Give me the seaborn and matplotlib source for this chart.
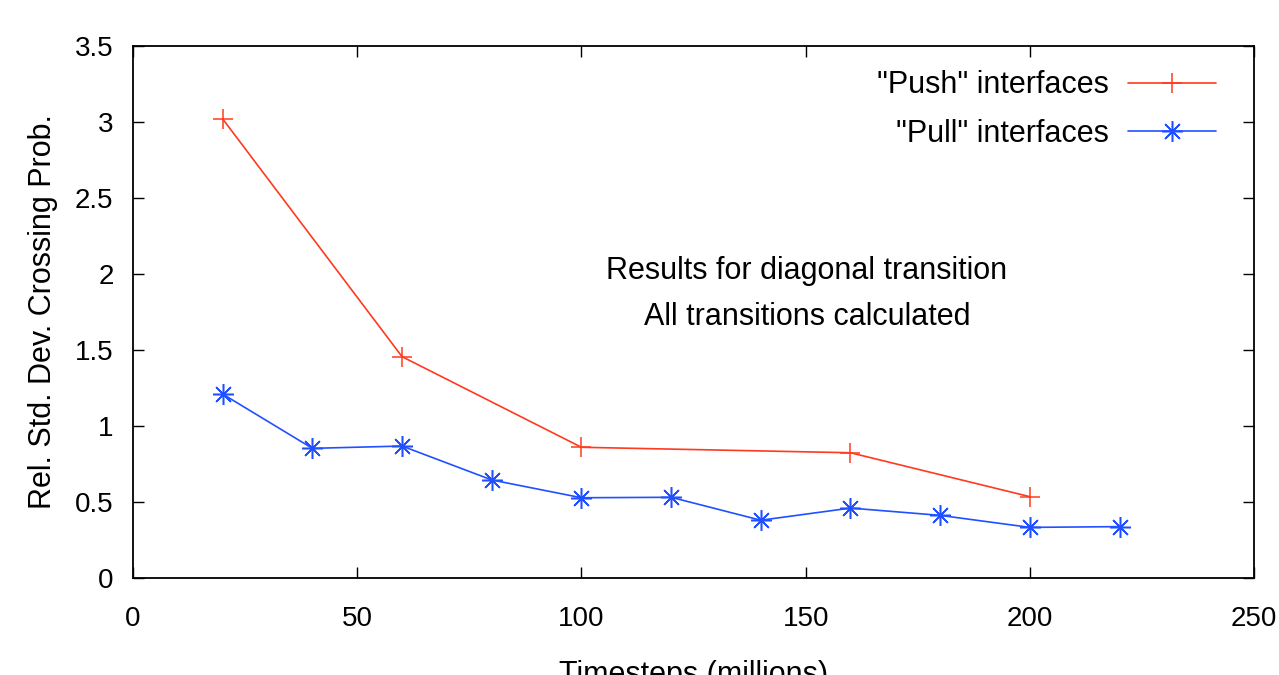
import matplotlib
matplotlib.use("Agg")
import matplotlib.pyplot as plt
import seaborn as sns
import pandas as pd

push_x = [20, 60, 100, 160, 200]
push_y = [3.02, 1.456, 0.86, 0.824, 0.535]
pull_x = [20, 40, 60, 80, 100, 120, 140, 160, 180, 200, 220]
pull_y = [1.21, 0.853, 0.868, 0.645, 0.528, 0.531, 0.38, 0.46, 0.412, 0.333, 0.338]
push_label = '"Push" interfaces'
pull_label = '"Pull" interfaces'
x_ticks = [0, 50, 100, 150, 200, 250]
y_ticks = [0, 0.5, 1, 1.5, 2, 2.5, 3, 3.5]
y_tick_labels = ["0", "0.5", "1", "1.5", "2", "2.5", "3", "3.5"]
annot_lines = ["Results for diagonal transition", "All transitions calculated"]

sns.set_theme(style="ticks")
plt.rcParams['font.family'] = ['Liberation Sans', 'DejaVu Sans']
plt.rcParams['text.color'] = 'black'
plt.rcParams['axes.labelcolor'] = 'black'

RED = "#ff3a1e"
BLUE = "#2050ff"
FS = 22

fig = plt.figure(figsize=(12.79, 6.75), dpi=100)
ax = fig.add_axes([0.104, 0.1437, 0.8765, 0.7882])

df_push = pd.DataFrame({"x": push_x, "y": push_y})
df_pull = pd.DataFrame({"x": pull_x, "y": pull_y})

sns.lineplot(data=df_push, x="x", y="y", ax=ax, color=RED, marker="+",
             markersize=14, markeredgewidth=1.1, markeredgecolor=RED,
             linewidth=1.2, label=push_label)
sns.lineplot(data=df_pull, x="x", y="y", ax=ax, color=BLUE, marker=(8, 2, 0),
             markersize=15, markeredgewidth=1.1, markeredgecolor=BLUE,
             linewidth=1.2, label=pull_label)

ax.set_xlim(0, 250)
ax.set_ylim(0, 3.5)
ax.set_xticks(x_ticks)
ax.set_yticks(y_ticks)
ax.set_yticklabels(y_tick_labels)

ax.tick_params(axis="both", direction="in", length=8, width=1.0, labelsize=20,
               top=True, right=True, colors="black", labelcolor="black")
ax.tick_params(axis="x", pad=20)
ax.tick_params(axis="y", pad=14)
for s in ax.spines.values():
    s.set_linewidth(1.3)
    s.set_color("black")

ax.set_xlabel("Timesteps (millions)", fontsize=FS, labelpad=20)
ax.set_ylabel("Rel. Std. Dev. Crossing Prob.", fontsize=FS, labelpad=12)

ax.text(150.3, 2.02, annot_lines[0], fontsize=FS, ha="center", va="center")
ax.text(150.3, 1.72, annot_lines[1], fontsize=FS, ha="center", va="center")

leg = ax.legend(loc="upper right", frameon=False, markerfirst=False, fontsize=FS,
                handlelength=2.9, handletextpad=0.6, labelspacing=0.6,
                borderaxespad=0.4, bbox_to_anchor=(0.988, 1.0))
for t in leg.get_texts():
    t.set_color("black")

fig.savefig("out.png", dpi=100)
